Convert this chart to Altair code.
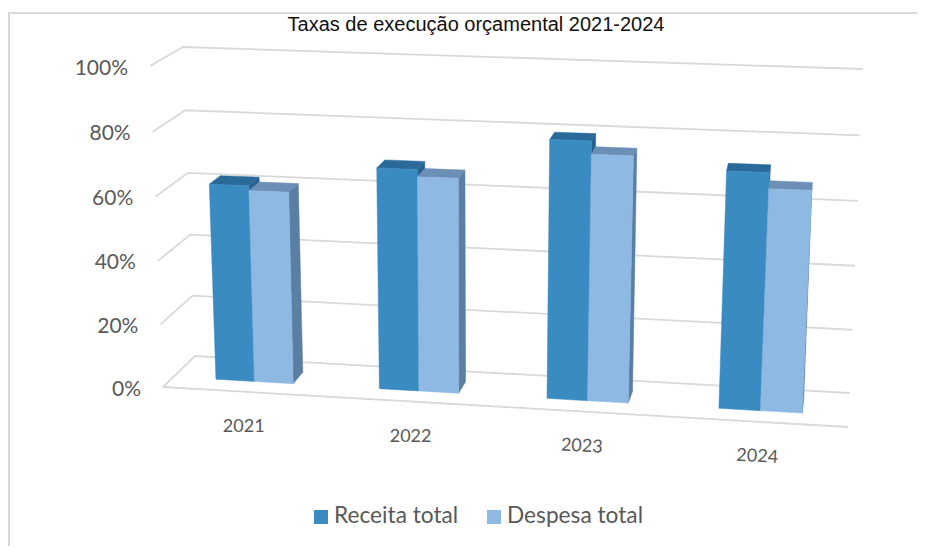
import altair as alt
import pandas as pd

# ---- values ----
years = ["2021", "2022", "2023", "2024"]
receita = [0.62, 0.69, 0.795, 0.72]
despesa = [0.605, 0.668, 0.755, 0.672]
ticks = [0.0, 0.2, 0.4, 0.6, 0.8, 1.0]
tick_labels = ["0%", "20%", "40%", "60%", "80%", "100%"]
series_names = ["Receita total", "Despesa total"]
title_text = "Taxas de execução orçamental 2021-2024"

# ---- styles ----
front_cols = ["#3A8BC2", "#8DB9E3"]
top_cols = ["#2A6A99", "#6C8FB5"]
side_cols = ["#25618F", "#5B7FA3"]
GRID = "#D9D9D9"
TXT = "#595959"
FONT = "Lato"

# ---- 3-D box projected on the page: (category, value, depth) -> page position ----
FL0, FR0, BL0, BR0 = (163, 387), (848, 427), (195, 356), (850, 393)
FL1, FR1, BL1, BR1 = (150, 66), (866, 85), (183, 47), (863, 69)


def lerp(a, b, t):
    return a + (b - a) * t


def corner(fl, fr, bl, br, u, d, k):
    return lerp(lerp(fl[k], fr[k], u), lerp(bl[k], br[k], u), d)


def proj(u, v, d):
    w = v - 0.03 * v * (1 - v)
    return tuple(
        lerp(corner(FL0, FR0, BL0, BR0, u, d, k), corner(FL1, FR1, BL1, BR1, u, d, k), w)
        for k in (0, 1)
    )


def warp(u):
    # foreshortening along the category axis
    return u + 0.05 * (u - 0.5) ** 2 - 0.005


X = alt.Scale(domain=[8, 917], range=[0, 909])
Y = alt.Scale(domain=[8, 547], range=[0, 539])
xe = alt.X("x:Q", scale=X, axis=None)
ye = alt.Y("y:Q", scale=Y, axis=None)


def frame(points):
    return pd.DataFrame(
        [{"x": p[0], "y": p[1], "i": n} for n, p in enumerate(points)]
    )


def stroke_line(points, color=GRID, width=1.8):
    return (
        alt.Chart(frame(points))
        .mark_line(color=color, strokeWidth=width)
        .encode(x=xe, y=ye, order="i:Q")
    )


def face(points, color):
    return (
        alt.Chart(frame(points + points[:1]))
        .mark_line(fill=color, stroke=color, strokeWidth=0.5)
        .encode(x=xe, y=ye, order="i:Q")
    )


def label(text, x, y, size, align="center", angle=0, color=TXT, font=FONT):
    return (
        alt.Chart(pd.DataFrame([{"x": x, "y": y, "t": text}]))
        .mark_text(align=align, baseline="middle", fontSize=size, font=font,
                   color=color, angle=angle)
        .encode(x=xe, y=ye, text="t:N")
    )


layers = []

# chart frame
layers.append(stroke_line([(9, 546), (9, 13), (917, 13)], width=2))

# gridlines: side wall + back wall
for t in ticks:
    layers.append(stroke_line([proj(0, t, 0), proj(0, t, 1), proj(1, t, 1)]))
layers.append(stroke_line([proj(0, 0, 0), proj(1, 0, 0)]))

# bars
half = 0.0595
d0, d1 = 0.33, 0.69
for i, yr in enumerate(years):
    centre = (i + 0.5) / 4 - 0.0075
    for s, vals in enumerate([receita, despesa]):
        v = vals[i]
        u0 = warp(centre - half + s * half)
        u1 = warp(centre - half + (s + 1) * half)
        layers.append(face([proj(u1, 0, d0), proj(u1, 0, d1), proj(u1, v, d1), proj(u1, v, d0)], side_cols[s]))
        layers.append(face([proj(u0, v, d0), proj(u1, v, d0), proj(u1, v, d1), proj(u0, v, d1)], top_cols[s]))
        layers.append(face([proj(u0, 0, d0), proj(u1, 0, d0), proj(u1, v, d0), proj(u0, v, d0)], front_cols[s]))

# value labels
for t, lab in zip(ticks, tick_labels):
    px, py = proj(0, t, 0)
    layers.append(label(lab, px - 22, py + 2.5, 21, align="right"))

# category labels
year_angles = [0, 0, 3, 3]
for i, yr in enumerate(years):
    px, py = proj(warp((i + 0.5) / 4 - 0.005), 0, 0)
    layers.append(label(yr, px - 3, py + 35, 18, angle=year_angles[i]))

# legend
for name, col, sx, tx in zip(series_names, front_cols, [321, 494], [334, 507]):
    layers.append(
        alt.Chart(pd.DataFrame([{"x": sx, "y": 517}]))
        .mark_point(shape="square", size=196, filled=True, opacity=1, color=col)
        .encode(x=xe, y=ye)
    )
    layers.append(label(name, tx, 516, 22.7, align="left"))

# title, kept whole just under the frame's top line
layers.append(label(title_text, 476, 25, 20, color="#111111", font="Liberation Sans"))

chart = (
    alt.layer(*layers)
    .properties(width=909, height=539, padding=0, autosize=alt.AutoSizeParams(type="none"))
    .configure_view(strokeWidth=0)
)

chart.save("out.html", embed_options={"renderer": "svg", "actions": False})
